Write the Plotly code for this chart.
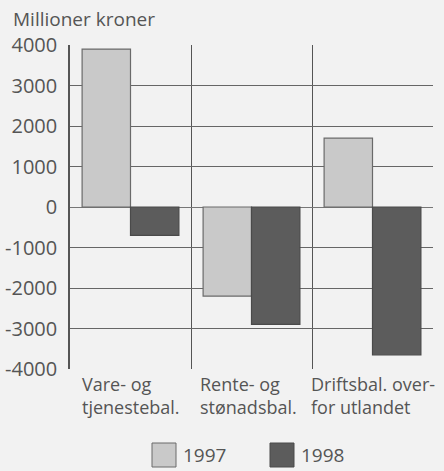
import plotly.graph_objects as go

categories = ["Vare- og<br>tjenestebal.", "Rente- og<br>stønadsbal.", "Driftsbal. over-<br>for utlandet"]
series_names = ["1997", "1998"]
values_1997 = [3900, -2200, 1700]
values_1998 = [-700, -2900, -3650]
y_ticks = [4000, 3000, 2000, 1000, 0, -1000, -2000, -3000, -4000]
y_tick_labels = ["4000", "3000", "2000", "1000", "0", "-1000", "-2000", "-3000", "-4000"]

FONT = "Open Sans"
TXT = "#555555"
BG = "#f2f2f2"
fills = ["#c9c9c9", "#5c5c5c"]
lines = ["#6a6a6a", "#4a4a4a"]
label_shifts = [0, -3, 0]

W, H = 444, 471
ML, MR, MT, MB = 70, 11, 45, 102
PW, PH = W - ML - MR, H - MT - MB

xpos = list(range(len(categories)))
fig = go.Figure()
for name, vals, fc, lc in zip(series_names, [values_1997, values_1998], fills, lines):
    fig.add_trace(go.Bar(x=xpos, y=vals, name=name, marker=dict(color=fc, line=dict(color=lc, width=1.2)),
                         showlegend=False))

for i, c in enumerate(categories):
    fig.add_annotation(x=i, y=0, xref="x", yref="paper", yanchor="top", xanchor="center", align="left",
                       text=c, showarrow=False, yshift=-1, xshift=label_shifts[i],
                       font=dict(family=FONT, size=18, color=TXT))

fig.add_annotation(x=0, y=1, xref="paper", yref="paper", xanchor="left", yanchor="bottom", xshift=-59, yshift=11,
                   text="Millioner kroner", showarrow=False, font=dict(family=FONT, size=19, color=TXT))

# manual legend (paper coords from pixel layout)
def px_x(p):
    return (p - ML) / PW

def px_y(p):
    return (H - MB - p) / PH

legend_left = [152, 270]
for name, fc, lc, lx in zip(series_names, fills, lines, legend_left):
    fig.add_shape(type="rect", xref="paper", yref="paper",
                  x0=px_x(lx), x1=px_x(lx + 24), y0=px_y(443), y1=px_y(467),
                  fillcolor=fc, line=dict(color=lc, width=1))
    fig.add_annotation(x=px_x(lx + 29), y=px_y(455), xref="paper", yref="paper", xanchor="left",
                       yanchor="middle", text=name, showarrow=False,
                       font=dict(family=FONT, size=19, color=TXT))

fig.update_layout(
    width=W, height=H,
    margin=dict(l=ML, r=MR, t=MT, b=MB),
    paper_bgcolor=BG, plot_bgcolor=BG,
    barmode="group", bargap=0.2, bargroupgap=0,
    font=dict(family=FONT, size=18, color=TXT),
    showlegend=False,
    xaxis=dict(range=[-0.5, 2.5], tickvals=[0.5, 1.5], showticklabels=False, showgrid=True,
               gridcolor="#555555", gridwidth=1.3, zeroline=False, ticks="", showline=False,
               fixedrange=True, automargin=False),
    yaxis=dict(range=[-4000, 4000], tickvals=y_ticks, ticktext=y_tick_labels, showgrid=True,
               gridcolor="#666666", gridwidth=1.3, ticklabelstandoff=7, automargin=False,
               zeroline=True, zerolinecolor="#777777", zerolinewidth=1.3, ticks="", ticklen=0,
               showline=True, linecolor="#555555", linewidth=1.5, mirror=False,
               tickfont=dict(size=20, color=TXT), fixedrange=True),
)
fig.write_html("out.html", config={"displayModeBar": False},
               post_script="document.body.style.margin='0';document.body.style.background='%s';" % BG)
